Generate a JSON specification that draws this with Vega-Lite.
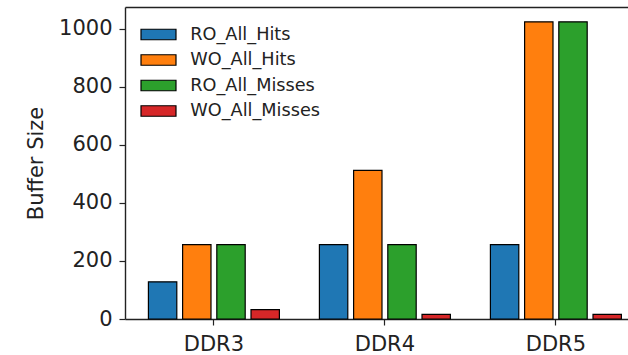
{
  "$schema": "https://vega.github.io/schema/vega-lite/v6.json",
  "width": 503,
  "height": 312,
  "autosize": {"type": "none"},
  "padding": {"left": 125, "top": 7, "right": 0, "bottom": 36},
  "background": "white",
  "config": {
    "font": "DejaVu Sans",
    "view": {"stroke": null},
    "axis": {"grid": false, "domain": true, "domainColor": "#222", "domainWidth": 1.4, "tickColor": "#222", "tickSize": 6, "tickWidth": 1.2, "labelColor": "#222", "labelFontSize": 21, "titleFontWeight": "normal", "titleColor": "#222"}
  },
  "data": {
    "values": [
      {"mem": "DDR3", "type": "RO_All_Hits", "size": 128},
      {"mem": "DDR3", "type": "WO_All_Hits", "size": 256},
      {"mem": "DDR3", "type": "RO_All_Misses", "size": 256},
      {"mem": "DDR3", "type": "WO_All_Misses", "size": 32},
      {"mem": "DDR4", "type": "RO_All_Hits", "size": 256},
      {"mem": "DDR4", "type": "WO_All_Hits", "size": 512},
      {"mem": "DDR4", "type": "RO_All_Misses", "size": 256},
      {"mem": "DDR4", "type": "WO_All_Misses", "size": 16},
      {"mem": "DDR5", "type": "RO_All_Hits", "size": 256},
      {"mem": "DDR5", "type": "WO_All_Hits", "size": 1024},
      {"mem": "DDR5", "type": "RO_All_Misses", "size": 1024},
      {"mem": "DDR5", "type": "WO_All_Misses", "size": 16}
    ]
  },
  "layer": [
    {
      "mark": {"type": "bar", "stroke": "black", "strokeWidth": 1.2},
      "encoding": {
        "x": {
          "field": "mem", "type": "nominal",
          "scale": {"range": [0, 519.8], "paddingInner": 0, "paddingOuter": 0.0199},
          "axis": {"title": null, "labelAngle": 0, "labelPadding": 8}
        },
        "xOffset": {
          "field": "type", "type": "nominal",
          "sort": ["RO_All_Hits", "WO_All_Hits", "RO_All_Misses", "WO_All_Misses"],
          "scale": {"paddingInner": 0.17, "paddingOuter": 0.585}
        },
        "y": {
          "field": "size", "type": "quantitative",
          "scale": {"domain": [0, 1075.2], "nice": false, "zero": true},
          "axis": {"title": "Buffer Size", "titleFontSize": 21, "values": [0, 200, 400, 600, 800, 1000], "format": "d", "labelPadding": 7, "titlePadding": 12}
        },
        "color": {
          "field": "type", "type": "nominal",
          "scale": {
            "domain": ["RO_All_Hits", "WO_All_Hits", "RO_All_Misses", "WO_All_Misses"],
            "range": ["#1f77b4", "#ff7f0e", "#2ca02c", "#d62728"]
          },
          "legend": {
            "title": null, "orient": "none", "legendX": 24, "legendY": 18,
            "symbolType": "M-2,-0.6H2V0.6H-2Z", "symbolSize": 306,
            "symbolStrokeColor": "black", "symbolStrokeWidth": 1.2, "symbolOpacity": 1,
            "labelFontSize": 17.7, "labelColor": "#222", "rowPadding": 6.5, "labelOffset": 22.3
          }
        }
      }
    },
    {
      "mark": {"type": "rule", "opacity": 0},
      "encoding": {
        "x": {
          "field": "mem", "type": "nominal",
          "axis": {"orient": "top", "title": null, "labels": false, "ticks": false, "domain": true}
        }
      }
    }
  ],
  "resolve": {"axis": {"x": "independent"}}
}
